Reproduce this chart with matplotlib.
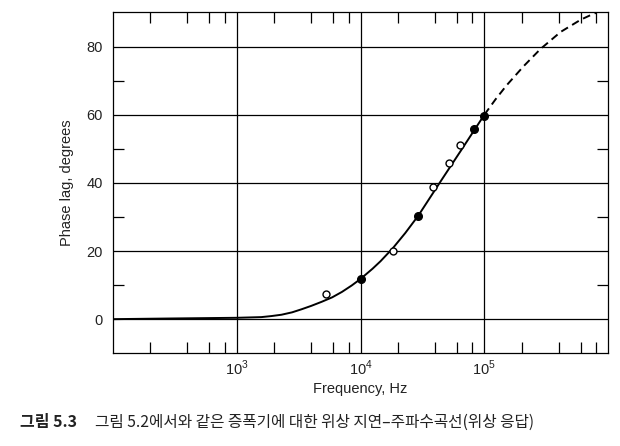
import numpy as np
import matplotlib
matplotlib.use('Agg')
from matplotlib import pyplot as plt
from matplotlib.ticker import FixedLocator, NullFormatter

plt.rcParams['font.family'] = ['Liberation Sans', 'Noto Sans CJK KR', 'DejaVu Sans']
plt.rcParams['mathtext.fontset'] = 'custom'
plt.rcParams['mathtext.rm'] = 'Liberation Sans'

# solid curve
curve_f = [100, 300, 1000, 1580, 1900, 2300, 2800, 3340, 4000, 4860, 5900, 7080, 8500, 10000,
           12500, 14500, 18300, 23000, 29300, 45000, 65000, 83000, 100000]
curve_deg = [0.0, 0.2, 0.4, 0.6, 0.9, 1.3, 2.0, 2.9, 3.9, 5.1, 6.4, 8.0, 9.9, 11.8,
             14.8, 17.0, 20.9, 25.3, 30.4, 40.8, 49.6, 55.5, 60.0]

# dashed extrapolation
dash_f = [100000, 123000, 151000, 207000, 284000, 413000, 601000, 748000, 800000]
dash_deg = [60.0, 64.5, 68.6, 74.2, 79.3, 84.3, 87.9, 89.5, 89.9]

# measured points
open_f = [5250, 18300, 38400, 51400, 63000]
open_deg = [7.3, 20.0, 38.8, 45.9, 51.0]
filled_f = [10000, 29300, 82800, 100000]
filled_deg = [11.8, 30.3, 55.7, 59.7]

xticks = [1e3, 1e4, 1e5]
yticks = [0, 20, 40, 60, 80]

fig = plt.figure(figsize=(6.2, 4.46), dpi=100)
ax = fig.add_axes([0.182, 0.208, 0.799, 0.764])

ax.set_xscale('log')
ax.set_xlim(1e2, 1e6)
ax.set_ylim(-10, 90)

ax.plot(curve_f, curve_deg, color='black', lw=1.4, zorder=3)
ax.plot(dash_f, dash_deg, color='black', lw=1.4, ls=(0, (4, 2.5)), zorder=3)
ax.plot(open_f, open_deg, 'o', ms=5, mfc='white', mec='black', mew=1.0, zorder=4)
ax.plot(filled_f, filled_deg, 'o', ms=5.5, mfc='black', mec='black', zorder=4)

ax.xaxis.set_major_locator(FixedLocator(xticks))
ax.xaxis.set_minor_locator(FixedLocator([m * 10**d for d in range(2, 6) for m in (2, 4, 6, 8)]))
ax.xaxis.set_minor_formatter(NullFormatter())
ax.set_xticklabels([r'$10^3$', r'$10^4$', r'$10^5$'])
ax.yaxis.set_major_locator(FixedLocator(yticks))
ax.yaxis.set_minor_locator(FixedLocator([10, 30, 50, 70]))

ax.grid(True, which='major', color='black', lw=0.9)
ax.tick_params(which='major', length=0, labelsize=10.5, colors='#222222')
ax.tick_params(axis='y', which='major', pad=7)
ax.tick_params(axis='x', which='major', pad=4)
ax.tick_params(which='minor', direction='in', length=8, width=0.9,
               top=True, right=True, color='black')
for s in ax.spines.values():
    s.set_linewidth(0.9)

ax.set_xlabel('Frequency, Hz', fontsize=10.5, color='#222222', labelpad=3)
ax.set_ylabel('Phase lag, degrees', fontsize=10.5, color='#222222', labelpad=9)

fig.text(0.032, 0.054, '그림 5.3', fontsize=11.5, fontweight='bold',
         family=['Noto Sans CJK KR'], color='#222222', va='center')
fig.text(0.153, 0.054, '그림 5.2에서와 같은 증폭기에 대한 위상 지연–주파수곡선(위상 응답)',
         fontsize=11.3, family=['Noto Sans CJK KR', 'DejaVu Sans'], color='#222222', va='center')

fig.savefig('out.png', dpi=100)
